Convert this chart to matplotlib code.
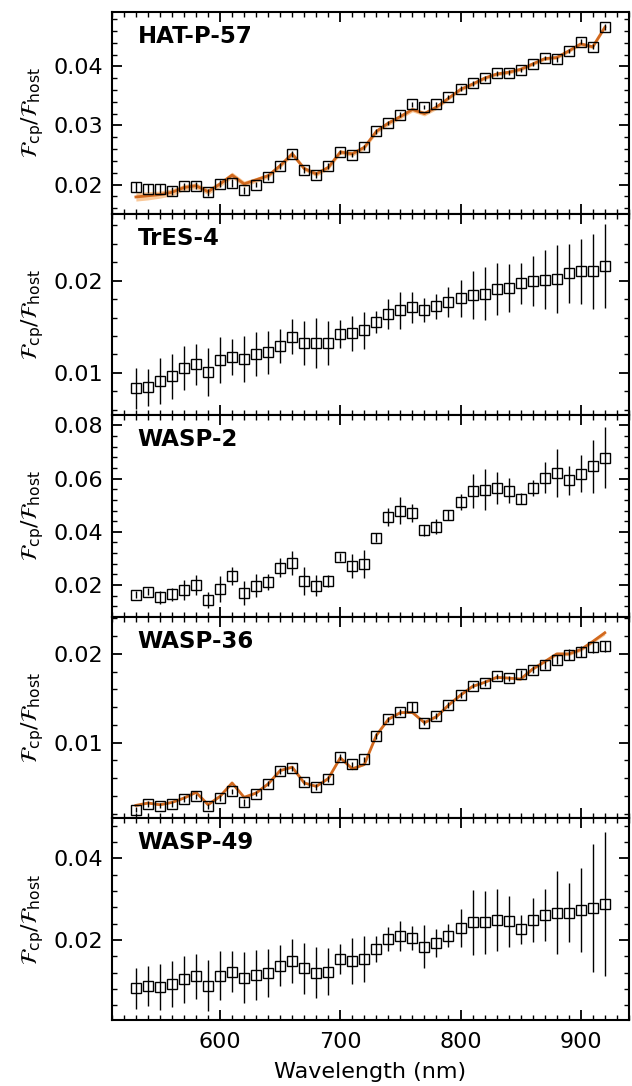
import numpy as np
import matplotlib
matplotlib.use("Agg")
import matplotlib.pyplot as plt
from matplotlib.ticker import MultipleLocator, AutoMinorLocator, FormatStrFormatter

# --- wavelength grid (nm) ---
wave = np.arange(530, 921, 10)

# --- HAT-P-57 ---
hat_flux = [0.0196, 0.0193, 0.0193, 0.0189, 0.0197, 0.0198, 0.0187, 0.0201, 0.0203, 0.0190,
            0.0200, 0.0212, 0.0232, 0.0252, 0.0225, 0.0216, 0.0232, 0.0255, 0.0250, 0.0263,
            0.0290, 0.0304, 0.0318, 0.0336, 0.0331, 0.0336, 0.0348, 0.0362, 0.0371, 0.0380,
            0.0388, 0.0389, 0.0394, 0.0404, 0.0414, 0.0412, 0.0426, 0.0442, 0.0433, 0.0466]
hat_err = [0.0009, 0.0008, 0.0008, 0.0007, 0.0006, 0.0006, 0.0006, 0.0006, 0.0007, 0.0006,
           0.0005, 0.0005, 0.0005, 0.0005, 0.0005, 0.0005, 0.0005, 0.0004, 0.0004, 0.0004,
           0.0004, 0.0004, 0.0004, 0.0004, 0.0004, 0.0004, 0.0004, 0.0004, 0.0004, 0.0004,
           0.0004, 0.0004, 0.0004, 0.0004, 0.0004, 0.0004, 0.0004, 0.0004, 0.0004, 0.0005]
hat_model = [0.0179, 0.0181, 0.0183, 0.0187, 0.0195, 0.0198, 0.0188, 0.0201, 0.0216, 0.0201,
             0.0208, 0.0215, 0.0232, 0.0252, 0.0227, 0.0218, 0.0229, 0.0255, 0.0252, 0.0263,
             0.0290, 0.0304, 0.0315, 0.0327, 0.0320, 0.0331, 0.0346, 0.0361, 0.0370, 0.0380,
             0.0387, 0.0390, 0.0395, 0.0404, 0.0413, 0.0415, 0.0426, 0.0438, 0.0433, 0.0466]
hat_band = [0.0007, 0.0007, 0.0006, 0.0006, 0.0005, 0.0005, 0.0005, 0.0005, 0.0005, 0.0005,
            0.0004, 0.0004, 0.0004, 0.0004, 0.0004, 0.0004, 0.0004, 0.0004, 0.0004, 0.0004,
            0.0004, 0.0004, 0.0004, 0.0004, 0.0004, 0.0004, 0.0003, 0.0003, 0.0003, 0.0003,
            0.0003, 0.0003, 0.0003, 0.0003, 0.0003, 0.0003, 0.0003, 0.0003, 0.0003, 0.0003]

# --- TrES-4 ---
tres_flux = [0.0083, 0.0084, 0.0091, 0.0096, 0.0105, 0.0109, 0.0101, 0.0114, 0.0117, 0.0115,
             0.0120, 0.0122, 0.0129, 0.0139, 0.0132, 0.0132, 0.0132, 0.0142, 0.0143, 0.0146,
             0.0155, 0.0164, 0.0168, 0.0171, 0.0168, 0.0172, 0.0177, 0.0181, 0.0184, 0.0186,
             0.0191, 0.0192, 0.0197, 0.0200, 0.0201, 0.0202, 0.0208, 0.0210, 0.0210, 0.0216]
tres_err = [0.0022, 0.0020, 0.0025, 0.0024, 0.0024, 0.0022, 0.0026, 0.0025, 0.0020, 0.0025,
            0.0024, 0.0023, 0.0018, 0.0019, 0.0024, 0.0027, 0.0024, 0.0015, 0.0019, 0.0020,
            0.0012, 0.0016, 0.0020, 0.0017, 0.0013, 0.0014, 0.0016, 0.0020, 0.0026, 0.0029,
            0.0028, 0.0026, 0.0022, 0.0027, 0.0032, 0.0037, 0.0032, 0.0035, 0.0041, 0.0046]

# --- WASP-2 ---
w2_flux = [0.0163, 0.0175, 0.0153, 0.0165, 0.0181, 0.0200, 0.0144, 0.0185, 0.0235, 0.0171,
           0.0198, 0.0213, 0.0265, 0.0281, 0.0215, 0.0198, 0.0216, 0.0306, 0.0271, 0.0278,
           0.0378, 0.0455, 0.0480, 0.0469, 0.0406, 0.0419, 0.0463, 0.0513, 0.0553, 0.0559,
           0.0566, 0.0554, 0.0525, 0.0563, 0.0604, 0.0621, 0.0594, 0.0619, 0.0646, 0.0679]
w2_err = [0.0013, 0.0013, 0.0026, 0.0025, 0.0039, 0.0037, 0.0031, 0.0048, 0.0034, 0.0045,
          0.0044, 0.0030, 0.0036, 0.0045, 0.0053, 0.0040, 0.0023, 0.0014, 0.0044, 0.0052,
          0.0018, 0.0033, 0.0050, 0.0034, 0.0020, 0.0028, 0.0018, 0.0031, 0.0064, 0.0078,
          0.0060, 0.0047, 0.0020, 0.0030, 0.0057, 0.0090, 0.0055, 0.0070, 0.0100, 0.0116]

# --- WASP-36 ---
w36_flux = [0.00245, 0.00309, 0.00291, 0.00309, 0.00366, 0.00396, 0.00283, 0.00377, 0.00453, 0.00328,
            0.00426, 0.00540, 0.00680, 0.00710, 0.00555, 0.00502, 0.00592, 0.00838, 0.00755, 0.00811,
            0.01075, 0.01264, 0.01347, 0.01404, 0.01226, 0.01302, 0.01423, 0.01536, 0.01642, 0.01672,
            0.01747, 0.01725, 0.01774, 0.01823, 0.01875, 0.01936, 0.01992, 0.02026, 0.02075, 0.02087]
w36_err = [0.0003, 0.0003, 0.0003, 0.0003, 0.0003, 0.0003, 0.0003, 0.0003, 0.0003, 0.0004,
           0.0003, 0.0003, 0.0003, 0.0003, 0.0003, 0.0003, 0.0003, 0.0003, 0.0003, 0.0003,
           0.0003, 0.0003, 0.0003, 0.0006, 0.0003, 0.0003, 0.0003, 0.0003, 0.0003, 0.0003,
           0.0003, 0.0003, 0.0004, 0.0004, 0.0005, 0.0005, 0.0006, 0.0006, 0.0007, 0.0006]
w36_model = [0.00294, 0.00321, 0.00302, 0.00328, 0.00377, 0.00442, 0.00302, 0.00396, 0.00547, 0.00385,
             0.00434, 0.00536, 0.00687, 0.00725, 0.00547, 0.00509, 0.00596, 0.00830, 0.00706, 0.00755,
             0.01083, 0.01264, 0.01340, 0.01340, 0.01226, 0.01294, 0.01423, 0.01536, 0.01634, 0.01680,
             0.01736, 0.01728, 0.01717, 0.01830, 0.01913, 0.02000, 0.02000, 0.02049, 0.02140, 0.02238]
w36_band = [0.0001] * 30 + [0.0001, 0.0001, 0.00015, 0.00015, 0.00015, 0.0002, 0.0002, 0.0002, 0.0002, 0.00025]

# --- WASP-49 ---
w49_flux = [0.0082, 0.0087, 0.0086, 0.0092, 0.0104, 0.0111, 0.0088, 0.0113, 0.0123, 0.0108,
            0.0115, 0.0119, 0.0137, 0.0148, 0.0131, 0.0120, 0.0123, 0.0153, 0.0149, 0.0154,
            0.0178, 0.0202, 0.0210, 0.0205, 0.0184, 0.0192, 0.0210, 0.0230, 0.0243, 0.0243,
            0.0250, 0.0246, 0.0226, 0.0250, 0.0261, 0.0267, 0.0267, 0.0273, 0.0279, 0.0288]
w49_err = [0.0050, 0.0049, 0.0056, 0.0056, 0.0057, 0.0056, 0.0062, 0.0060, 0.0051, 0.0062,
           0.0061, 0.0058, 0.0050, 0.0054, 0.0062, 0.0062, 0.0057, 0.0037, 0.0057, 0.0057,
           0.0032, 0.0029, 0.0037, 0.0029, 0.0052, 0.0034, 0.0028, 0.0046, 0.0079, 0.0076,
           0.0076, 0.0062, 0.0036, 0.0054, 0.0064, 0.0102, 0.0073, 0.0102, 0.0156, 0.0177]

names = ["HAT-P-57", "TrES-4", "WASP-2", "WASP-36", "WASP-49"]
fluxes = [hat_flux, tres_flux, w2_flux, w36_flux, w49_flux]
errors = [hat_err, tres_err, w2_err, w36_err, w49_err]
models = [(hat_model, hat_band), None, None, (w36_model, w36_band), None]
ylims = [(0.0151, 0.0492), (0.0054, 0.0273), (0.0081, 0.0839), (0.0015, 0.0242), (0.0005, 0.0498)]
ysteps = [0.01, 0.01, 0.02, 0.01, 0.02]

plt.rcParams["font.size"] = 16
plt.rcParams["mathtext.fontset"] = "dejavusans"

fig, axes = plt.subplots(5, 1, figsize=(6.32, 10.86), dpi=100, sharex=True)
fig.subplots_adjust(left=0.177, right=0.995, top=0.989, bottom=0.061, hspace=0)

for ax, name, f, e, mod, yl, ys in zip(axes, names, fluxes, errors, models, ylims, ysteps):
    if mod is not None:
        m = np.array(mod[0])
        b = np.array(mod[1])
        ax.fill_between(wave, m - b, m + b, color="#f6a455", alpha=0.6, lw=0, zorder=1)
        ax.plot(wave, m, color="#d2691e", lw=2, zorder=2)
    ax.errorbar(wave, f, yerr=e, fmt="s", ms=6.5, mfc="none", mec="black", mew=1.0,
                ecolor="black", elinewidth=1.0, capsize=0, zorder=3)
    ax.text(0.05, 0.935, name, transform=ax.transAxes, fontsize=16.5, fontweight="bold",
            va="top", ha="left")
    ax.set_ylim(*yl)
    ax.yaxis.set_major_locator(MultipleLocator(ys))
    ax.yaxis.set_minor_locator(AutoMinorLocator(5))
    ax.yaxis.set_major_formatter(FormatStrFormatter("%.2f"))
    ax.set_ylabel(r"$\mathcal{F}_{\rm cp}/\mathcal{F}_{\rm host}$", fontsize=16, labelpad=6)
    ax.tick_params(which="both", direction="in", top=True, right=True)
    ax.tick_params(which="major", length=7, width=1.3)
    ax.tick_params(which="minor", length=3.5, width=1.0)
    ax.tick_params(axis="y", which="major", pad=6)
    ax.tick_params(axis="x", which="major", pad=9)
    for s in ax.spines.values():
        s.set_linewidth(1.5)

axes[-1].set_xlim(510, 940)
axes[-1].xaxis.set_major_locator(MultipleLocator(100))
axes[-1].xaxis.set_minor_locator(AutoMinorLocator(10))
axes[-1].set_xlabel("Wavelength (nm)", fontsize=16, labelpad=7)
fig.align_ylabels(axes)

fig.savefig("out.png", dpi=100)
